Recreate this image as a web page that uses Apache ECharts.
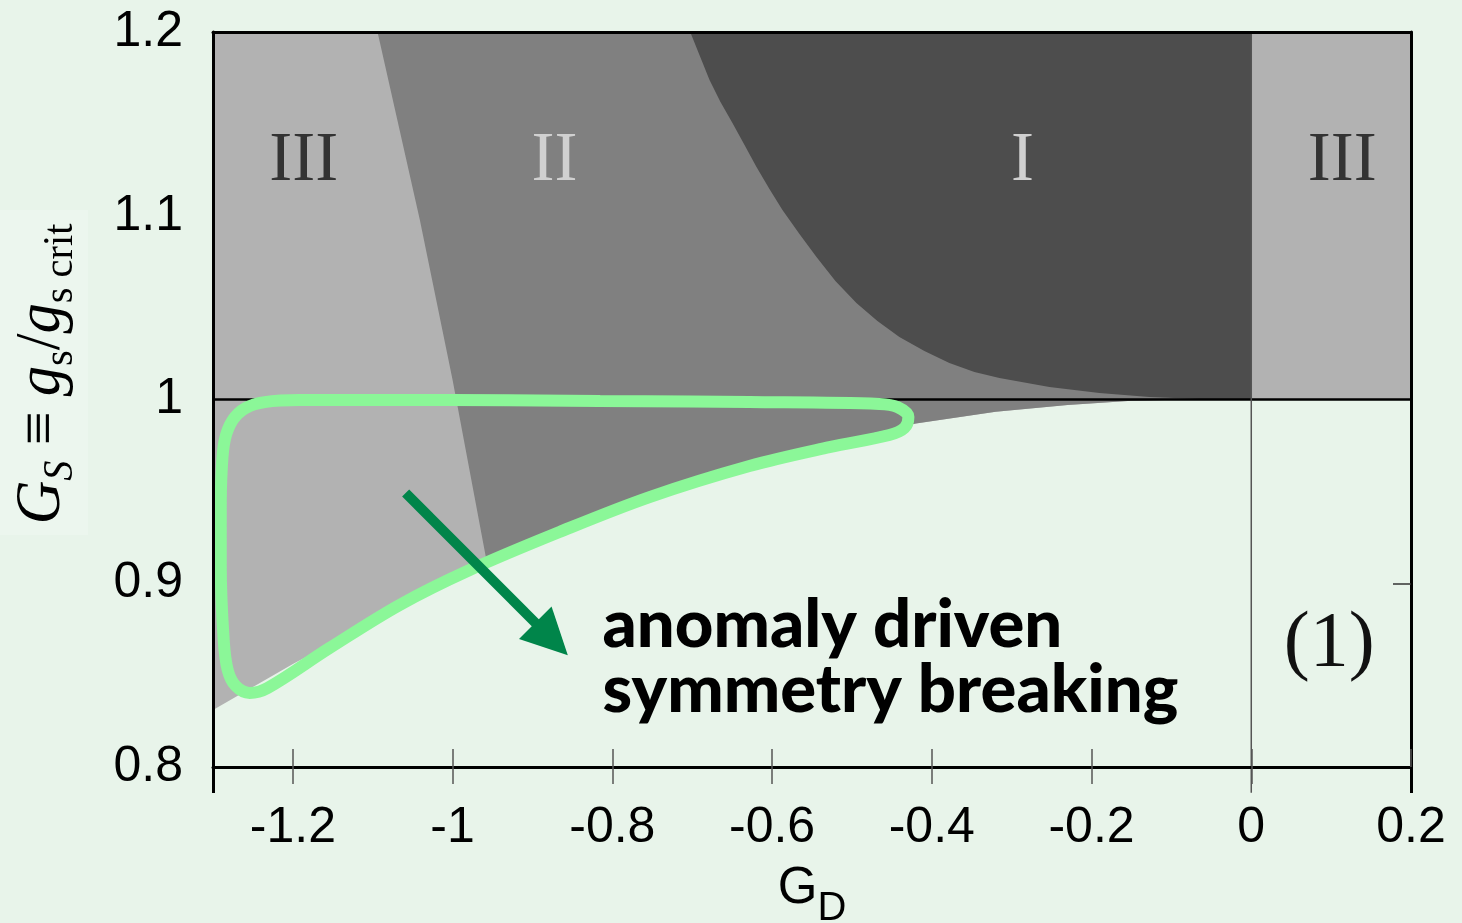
<!DOCTYPE html>
<html><head><meta charset="utf-8">
<script src="https://cdn.jsdelivr.net/npm/echarts@6/dist/echarts.min.js"></script>
<style>html,body{margin:0;padding:0;background:#E8F4EA;}#c{width:1462px;height:923px;}</style>
</head><body><div id="c"></div>
<script>
// ---- data ----
const xTicks = [-1.2, -1, -0.8, -0.6, -0.4, -0.2, 0, 0.2];
const yTicks = [0.8, 0.9, 1, 1.1, 1.2];
const frameTicks = [-1.3, 0.2];
const rightTicks = [0.9];
const boundaryIII_II = [[-1.094,1.2],[-1.041,1.0977],[-1.0,1.0106],[-0.957,0.911]];
const boundaryI = [[-0.7025,1.2],[-0.6909,1.1875],[-0.6783,1.1739],[-0.6646,1.1619],[-0.6496,1.1505],[-0.6345,1.1385],[-0.6195,1.1265],[-0.6033,1.1146],[-0.5870,1.1031],[-0.5657,1.0901],[-0.5444,1.0776],[-0.5207,1.0645],[-0.4944,1.0525],[-0.4681,1.0427],[-0.4406,1.0340],[-0.4093,1.0264],[-0.3780,1.0199],[-0.3467,1.0150],[-0.3154,1.0117],[-0.2528,1.0068],[-0.1902,1.0035],[-0.1277,1.0014],[-0.0651,1.0003],[-0.04,1.0]];
const lowerBoundary = [[-1.3,0.831],[-1.2,0.856],[-1.1,0.879],[-1.0,0.901],[-0.957,0.911],[-0.9,0.921],[-0.8,0.939],[-0.7,0.955],[-0.6,0.968],[-0.5,0.979],[-0.42,0.987],[-0.32,0.9934],[-0.23,0.997],[-0.15,0.9993],[-0.08,1.0]];
const greenLoop = [[-0.816,0.9992],[-0.6283,0.9986],[-0.4656,0.9976],[-0.4431,0.9959],[-0.4293,0.9905],[-0.4343,0.9845],[-0.4531,0.9807],[-0.5282,0.9741],[-0.6283,0.9638],[-0.7534,0.9469],[-0.8661,0.9279],[-0.9787,0.9072],[-1.0663,0.8882],[-1.1539,0.8648],[-1.2316,0.8430],[-1.2541,0.8403],[-1.2716,0.8441],[-1.2816,0.8528],[-1.2866,0.8691],[-1.2903,0.9100],[-1.2903,0.9400],[-1.2891,0.9616],[-1.2853,0.9780],[-1.2753,0.9888],[-1.2591,0.9954],[-1.2353,0.9986],[-1.1915,0.9997],[-1.0038,0.9997],[-0.816,0.9992]];
const arrow = [[-1.0588,0.9491],[-0.8761,0.8697]];
const criticalLine = [[-1.3,1],[0.2,1]];
const zeroLine = [[0,0.786],[0,1.2]];
const annotationText = ['III','II','I','III','(1)'];
const annotationPos = [[-1.1865,1.1292],[-0.8723,1.1292],[-0.2866,1.1292],[0.1139,1.1292],[0.0976,0.8664]];
const noteText = 'anomaly driven\nsymmetry breaking';
const notePos = [-0.8123, 0.8596];

// ---- styling ----
const bg = '#E8F4EA';
const annotationColors = ['#333333','#D0D0D0','#D0D0D0','#333333','#111111'];
const annotationSizes = [69,69,69,69,78];
const regionColors = ['#B2B2B2','#808080','#4D4D4D','#B2B2B2'];

// regions built from the boundaries
const regionIII = [[-1.3,1.2],[0,1.2],[0,1]].concat(lowerBoundary.slice().reverse());
const regionII = boundaryIII_II.concat(lowerBoundary.filter(p => p[0] > -0.957), [[0,1],[0,1.2]]);
const regionI = boundaryI.concat([[0,1],[0,1.2]]);
const regionIIIr = [[0,1],[0.2,1],[0.2,1.2],[0,1.2]];
const regions = [regionIII, regionII, regionI, regionIIIr];

const chart = echarts.init(document.getElementById('c'), null, {renderer:'canvas'});
const fmt = v => String(+(+v).toFixed(1));
const axisFont = {fontFamily:'Liberation Sans', fontSize:50, color:'#000'};
const noLine = {show:false, onZero:false};
const option = {
  backgroundColor: bg,
  animation: false,
  grid: {left:213, top:32, width:1198, height:735, containLabel:false, outerBoundsMode:'none', show:false},
  xAxis: [
    {type:'value', min:-1.3, max:0.2, position:'bottom', z:10,
     axisLine:{show:true, onZero:false, lineStyle:{color:'#000', width:3}},
     axisTick:{show:true, inside:false, length:17, customValues:xTicks, lineStyle:{color:'#555', width:1.5}},
     axisLabel:Object.assign({show:true, customValues:xTicks, margin:36, formatter:fmt, showMinLabel:true, showMaxLabel:true}, axisFont),
     splitLine:{show:false}},
    {type:'value', min:-1.3, max:0.2, position:'bottom', z:10,
     axisLine:noLine,
     axisTick:{show:true, inside:true, length:18, customValues:xTicks, lineStyle:{color:'#555', width:1.5}},
     axisLabel:{show:false}, splitLine:{show:false}},
    {type:'value', min:-1.3, max:0.2, position:'bottom', z:10,
     axisLine:noLine,
     axisTick:{show:true, inside:false, length:26, customValues:frameTicks, lineStyle:{color:'#000', width:3}},
     axisLabel:{show:false}, splitLine:{show:false}},
    {type:'value', min:-1.3, max:0.2, position:'top', z:10,
     axisLine:{show:true, onZero:false, lineStyle:{color:'#000', width:3}},
     axisTick:{show:false}, axisLabel:{show:false}, splitLine:{show:false}}
  ],
  yAxis: [
    {type:'value', min:0.8, max:1.2, position:'left', z:10,
     axisLine:{show:true, onZero:false, lineStyle:{color:'#000', width:3}},
     axisTick:{show:false},
     axisLabel:Object.assign({show:true, customValues:yTicks, margin:30, formatter:fmt, showMinLabel:true, showMaxLabel:true}, axisFont),
     splitLine:{show:false}},
    {type:'value', min:0.8, max:1.2, position:'right', z:10,
     axisLine:{show:true, onZero:false, lineStyle:{color:'#000', width:3}},
     axisTick:{show:true, inside:true, length:18, customValues:rightTicks, lineStyle:{color:'#333', width:1.5}},
     axisLabel:{show:false}, splitLine:{show:false}}
  ],
  series: [
    {type:'custom', coordinateSystem:'cartesian2d', silent:true, z:1, clip:true,
     data: regions.map((r,i) => [r[0][0], r[0][1], i]),
     renderItem: (params, api) => {
       const i = api.value(2);
       return {type:'polygon', shape:{points: regions[i].map(p => api.coord(p))}, style:{fill: regionColors[i]}};
     }},
    {type:'line', data:criticalLine, symbol:'none', clip:false, silent:true, z:2,
     lineStyle:{color:'#000', width:2.5}},
    {type:'line', data:zeroLine, symbol:'none', clip:false, silent:true, z:2,
     lineStyle:{color:'#555', width:1.5}},
    {type:'line', data:greenLoop, symbol:'none', smooth:0.35, clip:false, silent:true, z:3,
     lineStyle:{color:'#8BF798', width:12, cap:'round', join:'round'}},
    {type:'lines', coordinateSystem:'cartesian2d', silent:true, z:4,
     data:[{coords: arrow}],
     symbol:['none','path://M10,0 L20,20 L0,20 Z'], symbolSize:[44,46],
     lineStyle:{color:'#00854A', width:10, opacity:1, curveness:0}},
    {type:'scatter', symbolSize:0, silent:true, z:5, clip:false, itemStyle:{opacity:1},
     data: annotationPos.map((p,i) => ({value:p, label:{formatter:annotationText[i], color:annotationColors[i], fontSize:annotationSizes[i]}})),
     label:{show:true, opacity:1, position:'inside', fontFamily:'Liberation Serif', align:'center', verticalAlign:'middle'}},
    {type:'scatter', symbolSize:0, silent:true, z:5, clip:false, itemStyle:{opacity:1},
     data:[{value:notePos}],
     label:{show:true, opacity:1, position:'inside', formatter:noteText, align:'left', verticalAlign:'middle',
       fontFamily:'Lato', fontWeight:900, fontSize:67, lineHeight:65, color:'#000'}}
  ],
  graphic: [
    {type:'rect', z:-1, shape:{x:0, y:210, width:88, height:325}, style:{fill:'#ECF6EE'}},
    {type:'text', x:42, y:374, rotation:Math.PI/2, scaleX:0.96, z:10,
     style:{text:'{i|G}{is|S}{n| ≡ }{i|g}{s|s}{n|/}{i|g}{s|s crit}', align:'center', verticalAlign:'middle',
       rich:{
         i:{fontFamily:'Liberation Serif', fontStyle:'italic', fontSize:63, lineHeight:80, verticalAlign:'middle', fill:'#000'},
         is:{fontFamily:'Liberation Serif', fontStyle:'italic', fontSize:42, lineHeight:57, verticalAlign:'bottom', fill:'#000'},
         n:{fontFamily:'Liberation Serif', fontSize:63, lineHeight:80, verticalAlign:'middle', fill:'#000'},
         s:{fontFamily:'Liberation Serif', fontSize:42, lineHeight:57, verticalAlign:'bottom', fill:'#000'}
       }}},
    {type:'text', x:812, y:849, z:10,
     style:{text:'{a|G}{b|D}', align:'center', verticalAlign:'top',
       rich:{
         a:{fontFamily:'Liberation Sans', fontSize:51, lineHeight:80, verticalAlign:'middle', fill:'#000'},
         b:{fontFamily:'Liberation Sans', fontSize:40, lineHeight:40, verticalAlign:'bottom', fill:'#000'}
       }}}
  ]
};
chart.setOption(option);
</script></body></html>
